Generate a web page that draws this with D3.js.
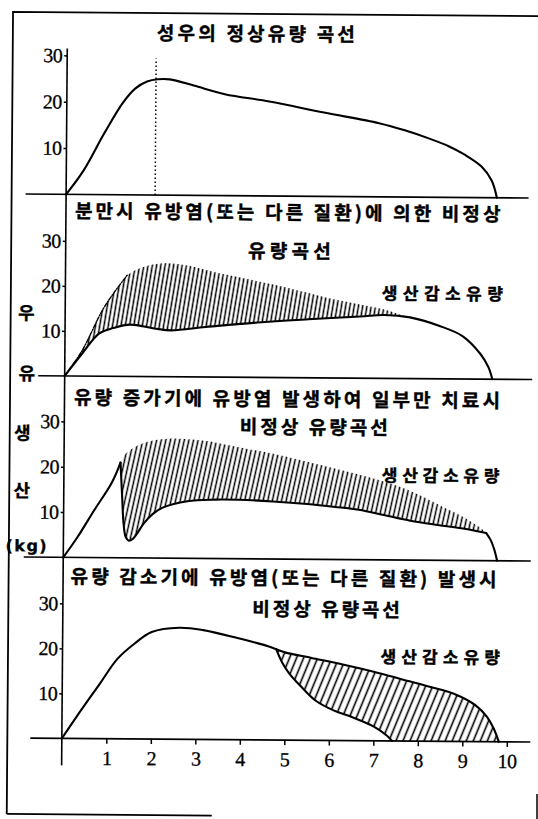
<!DOCTYPE html>
<html><head><meta charset="utf-8">
<script src="https://cdn.jsdelivr.net/npm/d3@7"></script>
<style>html,body{margin:0;padding:0;background:#fff;}svg{display:block}</style>
</head><body>
<svg id="c" width="538" height="819"></svg>
<script>
// ---------- data ----------
const xTicks = [1,2,3,4,5,6,7,8,9,10];
const yTicks = [10,20,30];
const peakTime = 2;
const titleP1 = ["성우의 정상유량 곡선"];
const titleP2 = ["분만시 유방염(또는 다른 질환)에 의한 비정상", "유량곡선"];
const titleP3 = ["유량 증가기에 유방염 발생하여 일부만 치료시", "비정상 유량곡선"];
const titleP4 = ["유량 감소기에 유방염(또는 다른 질환) 발생시", "비정상 유량곡선"];
const lossLabel = "생산감소유량";
const yLabel = ["우","유","생","산","(kg)"];

// panel 1: normal lactation curve
const normalCurve = [[0,0],[0.39,5.2],[0.85,13.3],[1.27,20],[1.54,23],[1.8,24.5],[2.04,25],[2.31,25],[2.85,23.7],[3.55,21.9],[4.55,20.4],[5.78,18.1],[7.02,15.9],[7.6,14.4],[8.17,12.6],[8.6,11],[8.94,9.3],[9.33,6.7],[9.56,3.7],[9.68,0]];
// panel 2
const p2Upper = [[0,0],[0.39,5.7],[0.85,14.9],[1.16,19.5],[1.39,22.5],[1.77,24.4],[2.24,25.2],[2.70,24.8],[3.55,22.9],[4.70,20.6],[5.86,17.9],[6.63,16.4],[7.17,15.3],[7.5,14.3],[7.75,13.6]];
const p2Lower = [[0,0],[0.39,5.0],[0.77,9.5],[1.08,10.7],[1.46,11.5],[2.0,10.7],[2.39,10.3],[3.16,11.1],[4.32,12.2],[5.47,13],[6.63,13.7],[7.17,14.1],[7.75,13.6],[8.40,11.8],[8.94,9.5],[9.33,5.7],[9.52,2.7],[9.61,0]];
// panel 3
const p3Rise = [[0,0],[0.31,4.4],[0.69,10.5],[1.08,16.6],[1.27,21]];
const p3Lower = [[1.27,21],[1.31,14],[1.35,7.5],[1.40,4.6],[1.47,3.8],[1.56,4.2],[1.65,5.3],[1.8,7.6],[2.0,9.7],[2.24,11.2],[2.78,12.6],[3.4,13.0],[3.93,13.0],[4.7,12.7],[5.47,12.2],[6.1,11.6],[6.63,11.0],[7.2,9.9],[7.79,8.7],[8.4,7.8],[8.94,7.1],[9.3,6.5],[9.5,6.1]];
const p3Fall = [[9.5,6.1],[9.6,4.6],[9.68,2.6],[9.75,0]];
const p3Upper = [[1.27,21],[1.35,22.6],[1.5,23.9],[1.65,24.8],[1.85,25.6],[2.1,26.1],[2.4,26.4],[2.78,26.3],[3.2,25.9],[3.55,25.3],[4.1,24.3],[4.7,23.2],[5.3,21.9],[5.86,20.6],[6.45,19.2],[7.02,17.8],[7.6,16.0],[8.0,14.3],[8.5,11.9],[8.94,9.8],[9.2,8.3],[9.4,7.0],[9.5,6.1]];
// panel 4
const p4Common = [[0,0],[0.31,4.6],[0.85,12.3],[1.23,17.7],[1.62,21.2],[2.0,23.8],[2.62,24.8],[3.16,24.3],[3.93,22.6],[4.3,21.7],[4.6,20.9],[4.8,20.2]];
const p4Upper = [[4.8,20.2],[5.0,19.5],[5.6,18.3],[6.3,16.9],[7.1,15.1],[7.8,13.3],[8.3,12.0],[8.8,10.6],[9.3,8.0],[9.55,5.5],[9.7,3.0],[9.82,0]];
const p4Lower = [[4.8,20.2],[4.95,17],[5.1,14.8],[5.35,12.1],[5.7,8.8],[6.1,6.7],[6.5,5.3],[7.0,3.2],[7.3,1.2],[7.42,0]];

// ---------- layout ----------
const svg = d3.select("#c");
const root = svg.append("g").attr("transform","rotate(0.45,270,400)");
const x = d3.scaleLinear().domain([0,10]).range([64.5,509.5]);
const panels = [
  {base:196, h:139, x0:24, x1:527},
  {base:377.5, h:135, x0:38, x1:532},
  {base:559, h:136, x0:25, x1:532},
  {base:740, h:135, x0:33, x1:533}
];
panels.forEach(p => p.y = d3.scaleLinear().domain([0,30]).range([p.base, p.base-p.h]));

const KR = "'Noto Sans CJK KR','Noto Sans CJK JP',sans-serif";
const SERIF = "'Liberation Serif','DejaVu Serif',serif";

// frame
root.append("path").attr("d","M10,816 L10,14 L545,14").attr("fill","none").attr("stroke","#000").attr("stroke-width",1.8);
root.append("line").attr("x1",10).attr("x2",215).attr("y1",816).attr("y2",816).attr("stroke","#000").attr("stroke-width",1.8);
svg.append("line").attr("x1",537).attr("x2",537).attr("y1",794).attr("y2",819).attr("stroke","#000").attr("stroke-width",1.5);

// hatch patterns
const defs = svg.append("defs");
function pattern(id, gap, angle, sw){
  const pt = defs.append("pattern").attr("id",id).attr("patternUnits","userSpaceOnUse")
    .attr("width",gap).attr("height",20).attr("patternTransform",`rotate(${angle})`);
  pt.append("line").attr("x1",gap/2).attr("x2",gap/2).attr("y1",0).attr("y2",20).attr("stroke","#000").attr("stroke-width",sw);
}
pattern("h2",4.2,9,1.5);
pattern("h3",4.5,12,1.5);
pattern("h4",6.5,22,1.6);

// y axis line
root.append("line").attr("x1",x(0)).attr("x2",x(0)).attr("y1",50).attr("y2",767).attr("stroke","#000").attr("stroke-width",1.6);

// baselines and y axes
panels.forEach(p => {
  root.append("line").attr("x1",p.x0).attr("x2",p.x1).attr("y1",p.base).attr("y2",p.base).attr("stroke","#000").attr("stroke-width",1.6);
  const ax = root.append("g").attr("transform",`translate(${x(0)},0)`)
    .call(d3.axisLeft(p.y).tickValues(yTicks).tickSize(3).tickPadding(2).tickFormat(d3.format("d")));
  ax.select(".domain").remove();
  ax.selectAll("line").attr("stroke","#000").attr("stroke-width",1.5);
  ax.selectAll("text").attr("font-family",SERIF).attr("font-size",20).attr("fill","#000")
    .attr("stroke","#000").attr("stroke-width",0.3).attr("letter-spacing",-0.5);
});

// x axis on bottom panel
const xa = root.append("g").attr("transform",`translate(0,${panels[3].base})`)
  .call(d3.axisBottom(x).tickValues(xTicks).tickSize(5).tickPadding(7).tickFormat(d3.format("d")));
xa.select(".domain").remove();
xa.selectAll("line").attr("stroke","#000").attr("stroke-width",1.5);
xa.selectAll("text").attr("font-family",SERIF).attr("font-size",20).attr("fill","#000")
  .attr("stroke","#000").attr("stroke-width",0.3).attr("letter-spacing",-0.5);

// helpers
function lineFor(p){
  return d3.line().x(d=>x(d[0])).y(d=>p.y(d[1])).curve(d3.curveCatmullRom.alpha(0.5));
}
function drawLine(p, data, opts={}){
  root.append("path").attr("d",lineFor(p)(data)).attr("fill","none").attr("stroke","#000")
    .attr("stroke-width",opts.w||2.1).attr("stroke-linejoin","round").attr("stroke-linecap","round")
    .attr("stroke-dasharray",opts.dash||null);
}
function hatch(p, upper, lower, pat){
  const lg = lineFor(p);
  const d = lg(upper) + lg(lower.slice().reverse()).replace(/^M/,"L") + "Z";
  root.append("path").attr("d",d).attr("fill",`url(#${pat})`).attr("stroke","none");
}
function text(str, x0, x1, yc, size, family, weight){
  root.append("text").attr("x",x0).attr("y",yc).attr("dy","0.36em")
    .attr("textLength",x1-x0).attr("lengthAdjust","spacing")
    .attr("font-family",family).attr("font-size",size).attr("font-weight",weight||700)
    .attr("fill","#000").attr("stroke","#000").attr("stroke-width",0.4).text(str);
}

// panel 1
const P1 = panels[0];
root.append("line").attr("x1",x(peakTime)).attr("x2",x(peakTime)).attr("y1",P1.y(0)).attr("y2",P1.y(29.5))
  .attr("stroke","#000").attr("stroke-width",1.5).attr("stroke-dasharray","1.5,2.5");
drawLine(P1, normalCurve);
text(titleP1[0],154,352,34,19,KR);

// panel 2
const P2 = panels[1];
hatch(P2, p2Upper.filter(d=>d[0]>=0.39), p2Lower.filter(d=>d[0]>=0.39 && d[0]<=7.75), "h2");
drawLine(P2, p2Upper.filter(d=>d[0]<=1.45), {w:1.4, dash:"4,1.5,1,1.5"});
drawLine(P2, p2Lower);
text(titleP2[0],73.5,499,212.5,19,KR);
text(titleP2[1],247,329.5,251,19,KR);
text(lossLabel,381,502,292.5,17,KR);

// panel 3
const P3 = panels[2];
hatch(P3, p3Upper, p3Lower, "h3");
drawLine(P3, p3Rise);
drawLine(P3, p3Lower);
drawLine(P3, p3Fall);
text(titleP3[0],74,500,399,19,KR);
text(titleP3[1],240,388,427,19,KR);
text(lossLabel,382.5,500,474.5,17,KR);

// panel 4
const P4 = panels[3];
hatch(P4, p4Upper, p4Lower, "h4");
drawLine(P4, p4Common);
drawLine(P4, p4Upper);
drawLine(P4, p4Lower);
text(titleP4[0],72,498,578,19,KR);
text(titleP4[1],254,401.5,609,19,KR);
text(lossLabel,382.5,502,656,17,KR);

// vertical y label
const yl = [[25.7,315],[26.7,375.5],[22.5,435],[22.5,492.5],[28,547.5]];
yLabel.forEach((s,i)=>{
  const t = root.append("text").attr("x",yl[i][0]).attr("y",yl[i][1]).attr("dy","0.36em")
    .attr("text-anchor","middle").attr("font-family",KR).attr("font-size",18).attr("font-weight",700)
    .attr("fill","#000").attr("stroke","#000").attr("stroke-width",0.3).text(s);
  if (s.length>1) t.attr("font-family","'DejaVu Sans',sans-serif").attr("font-size",16).attr("letter-spacing",1.5);
});
</script>
</body></html>
